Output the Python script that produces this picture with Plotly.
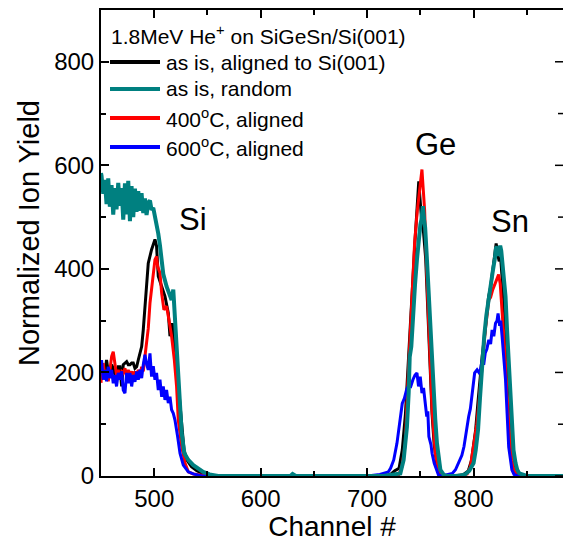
import plotly.graph_objects as go

# ---------------- data (channel, normalized ion yield) ----------------
black_ch = [450, 450.5, 452.1, 453.7, 455.2, 456.8, 458.4, 460.0, 461.5, 463.1, 464.6, 466.2, 467.8, 469.4,
            470.9, 472.5, 474.1, 475.6, 477.2, 478.8, 480.3, 481.9, 483.5, 485.0, 486.6, 488.2, 489.7, 491.3,
            492.9, 494.4, 497.5, 500.7, 502.2, 503.8, 507.0, 510.1, 513.2, 514.8, 517.0, 519.5, 522, 524,
            526, 528, 531, 535, 540, 545, 550, 555, 600, 640, 700, 715, 722, 726, 730, 733, 736, 739, 741,
            743, 745, 747, 748.5, 749.5, 751, 753, 755, 757, 759, 761, 763, 766, 770, 775, 790, 795, 798,
            800, 802, 804, 806, 808, 810, 812, 814, 816, 818, 819.5, 821.2, 822.5, 824, 825.5, 827, 829,
            831, 833, 835, 837, 839, 842, 845, 884]
black_y = [199, 186, 211, 199, 224, 202, 199, 215, 208, 195, 192, 211, 211, 173,
           215, 218, 221, 215, 215, 218, 218, 208, 211, 224, 240, 250, 282, 328,
           360, 411, 437, 457, 444, 386, 366, 347, 315, 270, 295, 250, 190, 140,
           90, 50, 30, 18, 10, 5, 2, 0, 0, 0, 0, 0, 3, 10, 15, 50, 120, 230, 320,
           400, 455, 520, 569, 540, 500, 470, 420, 320, 210, 120, 60, 15, 2, 0, 2, 10, 30,
           60, 90, 140, 190, 230, 265, 300, 345, 365, 395, 420, 449, 430, 415, 420, 380, 320,
           250, 180, 110, 55, 20, 5, 0, 0]

teal_ch = [450, 450.5, 452.1, 453.6, 455.2, 456.8, 458.3, 459.9, 461.5, 463.1, 464.6, 466.2, 467.8, 469.3,
           470.9, 472.5, 474.0, 475.6, 477.2, 478.7, 480.3, 481.9, 483.4, 485.0, 486.6, 488.1, 489.7, 491.3,
           492.8, 494.4, 496.0, 497.5, 499.1, 500.7, 502.2, 503.8, 505.4, 507.0, 508.5, 511.6, 514.8, 516.3,
           517.9, 519.5, 522.6, 524.2, 525.8, 528.3, 532.0, 536.7, 541.4, 546, 552, 560, 600, 628, 630,
           633, 680, 715, 722, 728, 731.2, 734.3, 737.4, 739, 740, 741.5, 742.5, 743.7, 745, 746.8, 748.5,
           750, 751, 752.4, 753.5, 754.5, 756.2, 757.5, 759.4, 761, 762.5, 764, 765.6, 767, 768.8, 772,
           775, 785, 792, 796, 800, 802, 804.2, 806, 808, 810, 812, 814.3, 816, 818, 820, 821, 822.1, 823,
           824, 825, 826, 827, 828, 830, 831.5, 833, 834.5, 836, 837.5, 839.4, 841, 843, 846, 850, 884]
teal_y = [585, 580, 545, 572, 525, 575, 520, 562, 505, 556, 515, 566, 522, 556,
          495, 565, 505, 570, 492, 560, 500, 555, 510, 550, 512, 546, 508, 536,
          504, 528, 532, 514, 518, 503, 488, 468, 445, 415, 390, 366, 347, 340,
          360, 302, 205, 141, 83, 44, 31, 21, 15, 8, 3, 0, 0, 0, 4,
          0, 0, 0, 2, 3, 5, 31, 95, 160, 230, 250, 290, 321, 370, 418, 460,
          485, 495, 521, 495, 480, 418, 360, 289, 220, 160, 110, 63, 35, 12, 2,
          0, 0, 3, 10, 25, 50, 89, 150, 218, 270, 310, 347, 370, 395, 420, 440, 443, 425,
          435, 445, 435, 410, 385, 347, 280, 218, 150, 89, 50, 25, 12, 5, 2, 0, 0]

red_ch = [450, 450.5, 452.1, 453.7, 455.2, 456.8, 458.4, 460.0, 461.5, 463.1, 464.6, 466.2, 467.8, 469.4,
          470.9, 472.5, 474.1, 475.6, 477.2, 478.8, 480.3, 481.9, 483.5, 485.0, 486.6, 488.2, 489.7, 491.3,
          492.9, 494.4, 496.0, 498.2, 500.7, 502.2, 503.2, 505.4, 507.0, 509.1, 511.6, 513.8, 516.3, 518.9,
          521.0, 522.6, 525.8, 528.9, 532.0, 536.7, 550, 600, 700, 720, 726, 729.6, 732.7, 735.9, 738,
          740.6, 742, 744.6, 747, 749, 750.5, 751.5, 752.5, 754, 756, 758.5, 761, 764, 767, 770, 775,
          785, 790, 794, 797, 799, 801.7, 803, 805, 808, 811, 814.3, 816, 818, 820, 822, 823.5, 825,
          826.5, 828.4, 830, 831.5, 833, 834.6, 836, 837.8, 840, 845, 884]
red_y = [180, 199, 218, 192, 205, 183, 205, 231, 240, 211, 195, 205, 192, 202,
         199, 208, 192, 205, 195, 202, 192, 202, 192, 205, 195, 211, 202, 231,
         263, 285, 334, 379, 418, 424, 405, 392, 353, 321, 328, 302, 270, 224,
         173, 108, 57, 25, 8, 4, 0, 0, 0, 0, 3, 2, 18, 63, 170,
         289, 350, 450, 510, 545, 580, 592, 560, 514, 390, 257, 128, 44, 12, 2, 0,
         0, 2, 4, 18, 45, 76, 100, 141, 218, 282, 340, 345, 360, 370, 380, 389, 372,
         330, 282, 220, 153, 100, 56, 30, 11, 3, 0, 0]

blue_ch = [450, 450.5, 452.1, 453.7, 455.2, 456.8, 458.4, 460.0, 461.5, 463.1, 464.6, 466.2, 467.8, 469.4,
           470.9, 472.5, 474.1, 475.6, 477.2, 478.8, 480.3, 481.9, 483.5, 485.0, 486.6, 488.2, 489.7, 491.3,
           492.9, 494.4, 496.0, 497.5, 499.1, 500.7, 502.2, 503.8, 505.4, 507.0, 508.5, 510.1, 511.6, 513.2,
           514.8, 516.3, 517.9, 519.5, 522.0, 524.2, 527.3, 532.0, 536.7, 545, 600, 700, 712, 716, 720,
           722, 725, 728, 731, 733, 735, 737, 739, 741, 743, 745, 746.8, 748.3, 749.9, 751.5, 753, 754,
           756, 757, 758, 760, 761, 763, 764, 767, 770, 775, 780, 783, 786, 789, 791, 793, 795.4, 797,
           798.5, 800, 801, 803.3, 805, 806.5, 808, 809.5, 811, 812.5, 814.3, 816, 817.4, 819, 820.6, 822,
           823, 824.5, 825.5, 826.8, 828.4, 830, 831.5, 833, 836, 838, 842, 884]
blue_y = [211, 224, 186, 205, 183, 211, 189, 205, 179, 195, 173, 199, 186, 202,
          166, 160, 199, 179, 199, 173, 195, 182, 202, 186, 205, 189, 215, 234,
          215, 205, 237, 192, 212, 186, 199, 166, 186, 153, 173, 147, 166, 141,
          153, 128, 121, 108, 76, 44, 21, 8, 4, 0, 0, 0, 3, 5, 8,
          15, 31, 63, 108, 140, 150, 166, 175, 173, 186, 195, 199, 173, 192, 160, 170, 147,
          115, 125, 76, 60, 44, 25, 18, 2, 0, 2, 5, 12, 25, 40, 57, 85, 115, 130,
          153, 175, 199, 205, 200, 205, 224, 215, 238, 245, 263, 255, 282, 270, 295, 300,
          314, 290, 300, 269, 230, 186, 121, 56, 12, 3, 0, 0]

series_names = ["as is, aligned to Si(001)", "as is, random", "400<sup>o</sup>C, aligned", "600<sup>o</sup>C, aligned"]
series_colors = ["#000000", "#008080", "#ff0000", "#0000ff"]
legend_title = "1.8MeV He<sup>+</sup> on SiGeSn/Si(001)"
peak_labels = ["Si", "Ge", "Sn"]
peak_label_x = [536, 764, 834]
peak_label_y = [495, 640, 492]
x_title = "Channel #"
y_title = "Normalized Ion Yield"

x_range = [450, 884]
y_range = [0, 900]
y_major = [0, 200, 400, 600, 800]
y_minor = [100, 300, 500, 700]

FONT = "Arial, 'Liberation Sans', sans-serif"

fig = go.Figure()
data = {
    0: (black_ch, black_y),
    1: (teal_ch, teal_y),
    2: (red_ch, red_y),
    3: (blue_ch, blue_y),
}
for i in [0, 2, 3, 1]:
    xs, ys = data[i]
    fig.add_trace(go.Scatter(x=xs, y=ys, mode="lines", name=series_names[i],
                             line=dict(color=series_colors[i], width=4 if i == 1 else 3),
                             showlegend=False, hoverinfo="skip"))

# plot geometry (pixels)
W, H = 563, 542
L, R, T, B = 101, 0, 10, 66
pw, ph = W - L - R, H - T - B


def px(xp):
    return (xp - L) / pw


def py(yp):
    return (H - B - yp) / ph


# right-edge ticks (the right frame line itself lies just outside the picture)
for v in y_major:
    fig.add_shape(type="line", xref="paper", yref="y", x0=1, x1=1 - 8 / pw, y0=v, y1=v,
                  line=dict(color="black", width=1.5))
for v in y_minor:
    fig.add_shape(type="line", xref="paper", yref="y", x0=1, x1=1 - 5 / pw, y0=v, y1=v,
                  line=dict(color="black", width=1.5))

# manual legend
fig.add_annotation(x=px(109), y=py(35), xref="paper", yref="paper", text=legend_title,
                   showarrow=False, xanchor="left", yanchor="middle",
                   font=dict(family=FONT, size=21, color="black"))
rows_y = [62, 89, 118, 147]
for i, ry in enumerate(rows_y):
    fig.add_shape(type="line", xref="paper", yref="paper", x0=px(110), x1=px(160), y0=py(ry), y1=py(ry),
                  line=dict(color=series_colors[i], width=4))
    fig.add_annotation(x=px(164), y=py(ry), xref="paper", yref="paper", text=series_names[i],
                       showarrow=False, xanchor="left", yanchor="middle",
                       font=dict(family=FONT, size=21, color="black"))

for t, xx, yy in zip(peak_labels, peak_label_x, peak_label_y):
    fig.add_annotation(x=xx, y=yy, text=t, showarrow=False, xanchor="center", yanchor="middle",
                       font=dict(family=FONT, size=31, color="black"))

# y-axis title as annotation (placed slightly above plot centre, as in reference)
fig.add_annotation(x=px(29), y=py(233), xref="paper", yref="paper", text=y_title, textangle=-90,
                   showarrow=False, xanchor="center", yanchor="middle",
                   font=dict(family=FONT, size=29, color="black"))

fig.update_layout(
    width=W, height=H,
    margin=dict(l=L, r=R, t=T, b=B),
    paper_bgcolor="white", plot_bgcolor="white",
    font=dict(family=FONT, color="black"),
    xaxis=dict(range=x_range, tickvals=[500, 600, 700, 800], ticks="inside", ticklen=8, tickwidth=1.5,
               tickcolor="black", showline=True, linecolor="black", linewidth=2, mirror="allticks",
               showgrid=False, zeroline=False, tickfont=dict(size=24, family=FONT),
               minor=dict(tickvals=[450, 550, 650, 750, 850], ticks="inside", ticklen=5, tickwidth=1.5,
                          tickcolor="black", showgrid=False),
               title=dict(text=x_title, font=dict(size=28, family=FONT), standoff=6)),
    yaxis=dict(range=y_range, tickvals=y_major, ticks="inside", ticklen=8, tickwidth=1.5,
               tickcolor="black", showline=True, linecolor="black", linewidth=2, mirror=False,
               showgrid=False, zeroline=False, tickfont=dict(size=24, family=FONT),
               minor=dict(tickvals=y_minor, ticks="inside", ticklen=5, tickwidth=1.5,
                          tickcolor="black", showgrid=False)),
)

fig.write_html("out.html")
